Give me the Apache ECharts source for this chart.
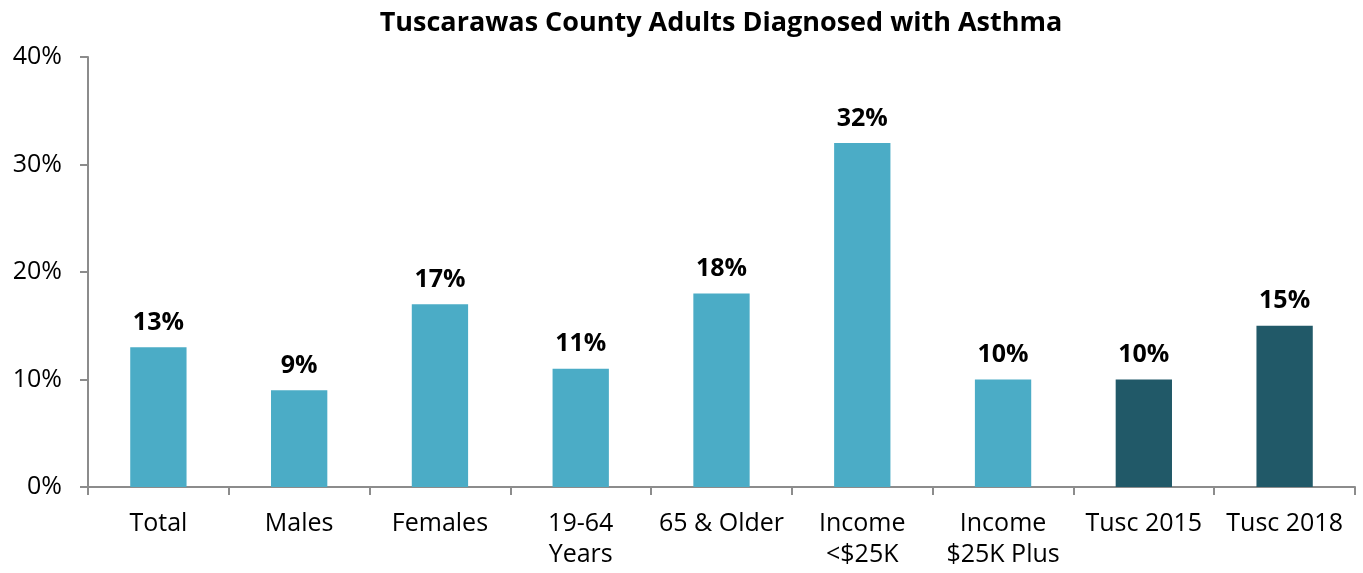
<!DOCTYPE html>
<html>
<head>
<meta charset="utf-8">
<script src="https://cdn.jsdelivr.net/npm/echarts@6/dist/echarts.min.js"></script>
<style>
  html, body { margin: 0; padding: 0; background: #fff; }
  #chart { width: 1363px; height: 573px; }
</style>
</head>
<body>
<div id="chart"></div>
<script>
// 数据
var categories = ['Total', 'Males', 'Females', '19-64\nYears', '65 & Older', 'Income\n<$25K', 'Income\n$25K Plus', 'Tusc 2015', 'Tusc 2018'];
var values = [13, 9, 17, 11, 18, 32, 10, 10, 15];
var barColors = ['#4BACC6', '#4BACC6', '#4BACC6', '#4BACC6', '#4BACC6', '#4BACC6', '#4BACC6', '#215968', '#215968'];
var yTicks = [0, 10, 20, 30, 40];

var fontFam = '"Open Sans", "Noto Sans", sans-serif';

var chart = echarts.init(document.getElementById('chart'));
chart.setOption({
    animation: false,
    title: {
        text: 'Tuscarawas County Adults Diagnosed with Asthma',
        left: 716,
        top: 5,
        textAlign: 'center',
        textStyle: { fontFamily: fontFam, fontSize: 27, fontWeight: 'bold', color: '#000' }
    },
    grid: { left: 88, right: 8, top: 57, bottom: 86, containLabel: false },
    xAxis: {
        type: 'category',
        data: categories,
        axisLine: { lineStyle: { color: '#8c8c8c', width: 2 } },
        axisTick: { show: true, length: 8, alignWithLabel: false, lineStyle: { color: '#8c8c8c', width: 2 } },
        axisLabel: { color: '#000', fontFamily: fontFam, fontSize: 25, margin: 21, interval: 0, lineHeight: 31 }
    },
    yAxis: {
        type: 'value',
        min: yTicks[0],
        max: yTicks[yTicks.length - 1],
        interval: 10,
        splitLine: { show: false },
        axisLine: { show: true, lineStyle: { color: '#8c8c8c', width: 2 } },
        axisTick: { show: true, length: 8, lineStyle: { color: '#8c8c8c', width: 2 } },
        axisLabel: { color: '#000', fontFamily: fontFam, fontSize: 25, margin: 26, formatter: '{value}%' }
    },
    series: [{
        type: 'bar',
        barWidth: '40%',
        data: values.map(function (v, i) {
            return { value: v, itemStyle: { color: barColors[i] } };
        }),
        label: {
            show: true,
            position: 'top',
            distance: 12,
            formatter: '{c}%',
            color: '#000',
            fontFamily: fontFam,
            fontSize: 25,
            fontWeight: 'bold'
        }
    }]
});
</script>
</body>
</html>
